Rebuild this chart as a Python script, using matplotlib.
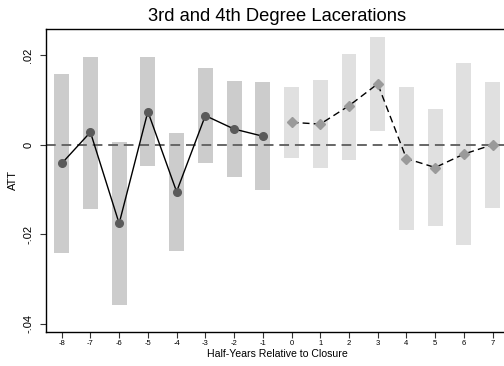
import matplotlib.pyplot as plt

plt.rcParams['font.family'] = ['Liberation Sans', 'DejaVu Sans']

# event time (half-years relative to closure)
pre_x = [-8, -7, -6, -5, -4, -3, -2, -1]
post_x = [0, 1, 2, 3, 4, 5, 6, 7]

# point estimates
pre_att = [-0.0042, 0.0028, -0.0176, 0.0074, -0.0105, 0.0065, 0.0035, 0.0019]
post_att = [0.0050, 0.0046, 0.0087, 0.0136, -0.0031, -0.0051, -0.0021, 0.0000]

# confidence intervals
pre_lo = [-0.0241, -0.0143, -0.0358, -0.0047, -0.0237, -0.0042, -0.0072, -0.0101]
pre_hi = [0.0158, 0.0196, 0.0006, 0.0196, 0.0026, 0.0171, 0.0142, 0.0140]
post_lo = [-0.0029, -0.0051, -0.0034, 0.0031, -0.0190, -0.0182, -0.0224, -0.0141]
post_hi = [0.0129, 0.0145, 0.0203, 0.0241, 0.0130, 0.0080, 0.0183, 0.0140]

fig = plt.figure(figsize=(5.04, 3.66), dpi=100)
ax = fig.add_axes([46 / 504, 34.3 / 366, 462.3 / 504, 302.7 / 366])

ax.bar(pre_x, [h - l for h, l in zip(pre_hi, pre_lo)], bottom=pre_lo,
       width=0.52, color='#cccccc', zorder=1)
ax.bar(post_x, [h - l for h, l in zip(post_hi, post_lo)], bottom=post_lo,
       width=0.52, color='#e0e0e0', zorder=1)

ax.axhline(0, color='#666666', linestyle=(0, (5, 3)), linewidth=1.4, zorder=2)

ax.plot(pre_x, pre_att, color='black', linewidth=1.0, zorder=3)
ax.plot(pre_x, pre_att, 'o', color='#5a5a5a', markersize=5.5, zorder=4)
ax.plot(post_x, post_att, color='black', linewidth=1.0, linestyle=(0, (5, 3)), zorder=3)
ax.plot(post_x, post_att, 'D', color='#9a9a9a', markersize=5, zorder=4)

ax.set_xlim(-8.546, 7.546)
ax.set_ylim(-0.0418, 0.02586)

ax.set_xticks(pre_x + post_x)
ax.set_xticklabels([str(v) for v in pre_x + post_x], fontsize=5.5)
ax.set_yticks([-0.04, -0.02, 0, 0.02])
ax.set_yticklabels(['-.04', '-.02', '0', '.02'], fontsize=8, rotation=90, va='center')
ax.tick_params(axis='both', direction='out', length=4, width=0.8, color='#333333')
ax.tick_params(axis='x', pad=2)
ax.tick_params(axis='y', pad=5)

ax.set_xlabel('Half-Years Relative to Closure', fontsize=7.6, labelpad=1.5)
ax.set_ylabel('ATT', fontsize=8, labelpad=4)
ax.set_title('3rd and 4th Degree Lacerations', fontsize=13.2, pad=6)

for s in ['left', 'bottom', 'top']:
    ax.spines[s].set_linewidth(1.0)
ax.spines['right'].set_visible(False)

fig.savefig('out.png', dpi=100)
